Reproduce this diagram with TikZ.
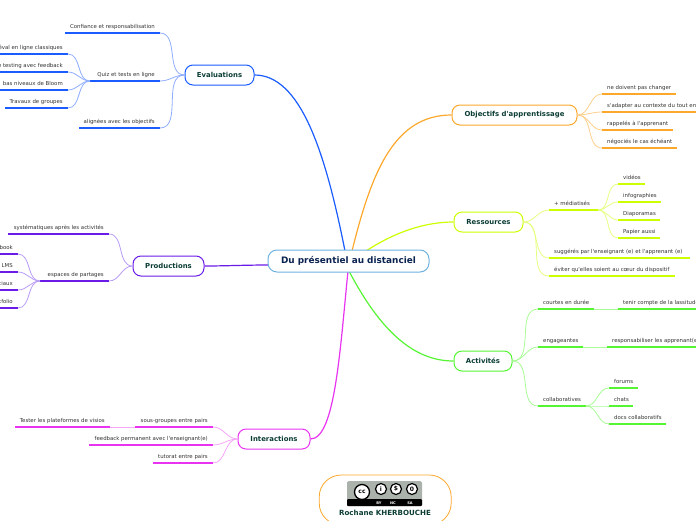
\documentclass[tikz,border=0pt]{standalone}
\usepackage{fontspec}
\newfontfamily\lab{DejaVu Sans}
\definecolor{cblue}{HTML}{1A5CFF}\definecolor{lblue}{HTML}{8FADFF}
\definecolor{cpur}{HTML}{6A1BE8}\definecolor{lpur}{HTML}{B79CF5}
\definecolor{cmag}{HTML}{E833F0}\definecolor{lmag}{HTML}{F6A6F9}
\definecolor{cora}{HTML}{FCA82C}\definecolor{lora}{HTML}{FDCF8B}
\definecolor{cyel}{HTML}{CCFF00}\definecolor{lyel}{HTML}{E5FF80}
\definecolor{cgre}{HTML}{55F533}\definecolor{lgre}{HTML}{A8FB95}
\definecolor{ttl}{HTML}{0B3D34}\definecolor{nav}{HTML}{0B2350}\definecolor{txt}{HTML}{333333}
\definecolor{rootline}{HTML}{6FB3E0}\definecolor{logogr}{HTML}{AAB2AB}
\tikzset{
 topic/.style={draw=#1,line width=1pt,fill=white,rounded corners=8pt,inner sep=0pt,text=ttl,font=\lab\bfseries\fontsize{6.9}{8}\selectfont},
 leaftext/.style={inner sep=0pt,text=txt,font=\lab\fontsize{5.4}{6}\selectfont},
 under/.style={line width=1.5pt},
 conn/.style={line width=.8pt},
 branch/.style={line width=1.2pt},
 lic/.style={circle,draw=black,line width=1.2pt,fill=white,minimum size=11pt,inner sep=0pt,font=\lab\bfseries\fontsize{6}{6}\selectfont},
 lictext/.style={text=white,inner sep=0pt,font=\lab\bfseries\fontsize{3.6}{4}\selectfont}
}
% name, x1, x2, y, colour, text
\newcommand{\leafL}[6]{\coordinate (#1-l) at (#2,#4);\coordinate (#1-r) at (#3,#4);
 \draw[under,#5] (#1-l)--(#1-r);
 \node[leaftext,anchor=base east] (#1-t) at (#3-5,#4-4.2) {#6};}
\newcommand{\leafR}[6]{\coordinate (#1-l) at (#2,#4);\coordinate (#1-r) at (#3,#4);
 \draw[under,#5] (#1-l)--(#1-r);
 \node[leaftext,anchor=base west] (#1-t) at (#2+5,#4-4.2) {#6};}
\begin{document}
\begin{tikzpicture}[x=1pt,y=-1pt]
\useasboundingbox (0,0) rectangle (696,520);
\clip (0,0) rectangle (696,520);
% logo box
\node[draw=cora,line width=.8pt,rounded corners=22pt,minimum width=132pt,minimum height=50pt,inner sep=0pt] (licbox) at (385.2,500) {};
\fill[rounded corners=1.5pt,logogr] (347,481) rectangle (422,506);
\fill[black,rounded corners=1pt] (347,499) rectangle (422,506);
\node[lic,line width=1.3pt,minimum size=15pt] (cc) at (362,492) {cc};
\node[lic] (by) at (381,489) {i};
\node[lic] (nc) at (396,489) {\$};
\node[lic] (sa) at (412,489) {0};
\node[lictext] (byt) at (379,503) {BY};
\node[lictext] (nct) at (393,503) {NC};
\node[lictext] (sat) at (410,503) {SA};
\node[text=ttl,inner sep=0pt,font=\lab\bfseries\fontsize{7.1}{8}\selectfont] (auth) at (385,512.5) {Rochane KHERBOUCHE};

% anchors on the central topic
\coordinate (s1) at (345,251);\coordinate (s2) at (352,251);\coordinate (s3) at (366,251);
\coordinate (s4) at (349,271);\coordinate (s5) at (348,271);\coordinate (s6) at (269,265);

% topics
\node[topic=cblue,minimum width=69pt,minimum height=20pt] (eval) at (219.5,75) {Evaluations};
\node[topic=cora,minimum width=125pt,minimum height=20pt] (obj) at (514.5,115) {Objectifs d'apprentissage};
\node[topic=cyel,minimum width=69pt,minimum height=20pt] (res) at (488.5,222) {Ressources};
\node[topic=cgre,minimum width=58pt,minimum height=20pt] (act) at (483,361) {Activités};
\node[topic=cpur,minimum width=71pt,minimum height=20pt] (prod) at (168.5,266) {Productions};
\node[topic=cmag,minimum width=72pt,minimum height=20pt] (inter) at (274,439) {Interactions};

% main branches
\draw[branch,cblue] (s1) .. controls (325,150) and (300,75) .. (eval.east);
\draw[branch,cora] (s2) .. controls (372,170) and (395,115) .. (obj.west);
\draw[branch,cyel] (s3) .. controls (395,232) and (425,222) .. (res.west);
\draw[branch,cgre] (s4) .. controls (385,340) and (420,361) .. (act.west);
\draw[branch,cmag] (s5) .. controls (340,350) and (335,439) .. (inter.east);
\draw[branch,cpur] (s6) .. controls (245,265) and (225,266) .. (prod.east);

% Evaluations
\leafL{e1}{65}{160}{33}{cblue}{Confiance et responsabilisation}
\leafL{e2}{90}{160}{81}{cblue}{Quiz et tests en ligne}
\leafL{e3}{79}{160}{128}{cblue}{alignées avec les objectifs}
\leafL{q1}{-2}{68}{54}{cblue}{éval en ligne classiques}
\leafL{q2}{-2}{68}{72}{cblue}{e testing avec feedback}
\leafL{q3}{-2}{68}{90}{cblue}{bas niveaux de Bloom}
\leafL{q4}{5}{68}{108}{cblue}{Travaux de groupes}
\foreach \n in {e1,e2,e3} \draw[conn,lblue] (\n-r) to[out=0,in=180] (eval.west);
\foreach \n in {q1,q2,q3,q4} \draw[conn,lblue] (\n-r) to[out=0,in=180] (e2-l);

% Productions
\leafL{p1}{8}{109}{234}{cpur}{systématiques après les activités}
\leafL{p2}{40}{109}{281}{cpur}{espaces de partages}
\leafL{b1}{-2}{18}{254}{cpur}{book}
\leafL{b2}{-2}{18}{272}{cpur}{LMS}
\leafL{b3}{-2}{18}{290}{cpur}{ciaux}
\leafL{b4}{-2}{18}{308}{cpur}{tfolio}
\foreach \n in {p1,p2} \draw[conn,lpur] (\n-r) to[out=0,in=180] (prod.west);
\foreach \n in {b1,b2,b3,b4} \draw[conn,lpur] (\n-r) to[out=0,in=180] (p2-l);

% Interactions
\leafL{i1}{135}{213}{427}{cmag}{sous-groupes entre pairs}
\leafL{i2}{89}{213}{445}{cmag}{feedback permanent avec l'enseignant(e)}
\leafL{i3}{153}{213}{463}{cmag}{tutorat entre pairs}
\leafL{i4}{15}{110}{427}{cmag}{Tester les plateformes de visios}
\foreach \n in {i1,i2,i3} \draw[conn,lmag] (\n-r) to[out=0,in=180] (inter.west);
\draw[conn,lmag,line width=1pt] (i4-r)--(i1-l);

% Objectifs
\leafR{o1}{602}{676}{94}{cora}{ne doivent pas changer}
\leafR{o2}{602}{698}{112}{cora}{s'adapter au contexte du tout en}
\leafR{o3}{602}{673}{130}{cora}{rappelés à l'apprenant}
\leafR{o4}{602}{677}{148}{cora}{négociés le cas échéant}
\foreach \n in {o1,o2,o3,o4} \draw[conn,lora] (obj.east) to[out=0,in=180] (\n-l);

% Ressources
\leafR{r1}{549}{598}{210}{cyel}{+ médiatisés}
\leafR{r2}{549}{690}{258}{cyel}{suggérés par l'enseignant (e) et l'apprenant (e)}
\leafR{r3}{549}{675}{276}{cyel}{éviter qu'elles soient au cœur du dispositif}
\leafR{m1}{618}{645}{184}{cyel}{vidéos}
\leafR{m2}{618}{661}{202}{cyel}{infographies}
\leafR{m3}{618}{660}{220}{cyel}{Diaporamas}
\leafR{m4}{618}{660}{238}{cyel}{Papier aussi}
\foreach \n in {r1,r2,r3} \draw[conn,lyel] (res.east) to[out=0,in=180] (\n-l);
\foreach \n in {m1,m2,m3,m4} \draw[conn,lyel] (r1-r) to[out=0,in=180] (\n-l);

% Activites
\leafR{a1}{538}{594}{309}{cgre}{courtes en durée}
\leafR{a2}{538}{583}{347}{cgre}{engageantes}
\leafR{a3}{538}{586}{406}{cgre}{collaboratives}
\leafR{a4}{618}{698}{309}{cgre}{tenir compte de la lassitude}
\leafR{a5}{607}{698}{347}{cgre}{responsabiliser les apprenant(e)s}
\leafR{c1}{609}{638}{388}{cgre}{forums}
\leafR{c2}{609}{633}{406}{cgre}{chats}
\leafR{c3}{609}{666}{424}{cgre}{docs collaboratifs}
\foreach \n in {a1,a2,a3} \draw[conn,lgre] (act.east) to[out=0,in=180] (\n-l);
\draw[conn,lgre] (a1-r)--(a4-l);
\draw[conn,lgre] (a2-r)--(a5-l);
\foreach \n in {c1,c2,c3} \draw[conn,lgre] (a3-r) to[out=0,in=180] (\n-l);

% central topic
\node[draw=rootline,line width=1pt,fill=white,rounded corners=9pt,minimum width=161pt,minimum height=22pt,inner sep=0pt,text=nav,font=\lab\bfseries\fontsize{8.9}{10}\selectfont] (root) at (348.5,261) {Du présentiel au distanciel};
\end{tikzpicture}
\end{document}
